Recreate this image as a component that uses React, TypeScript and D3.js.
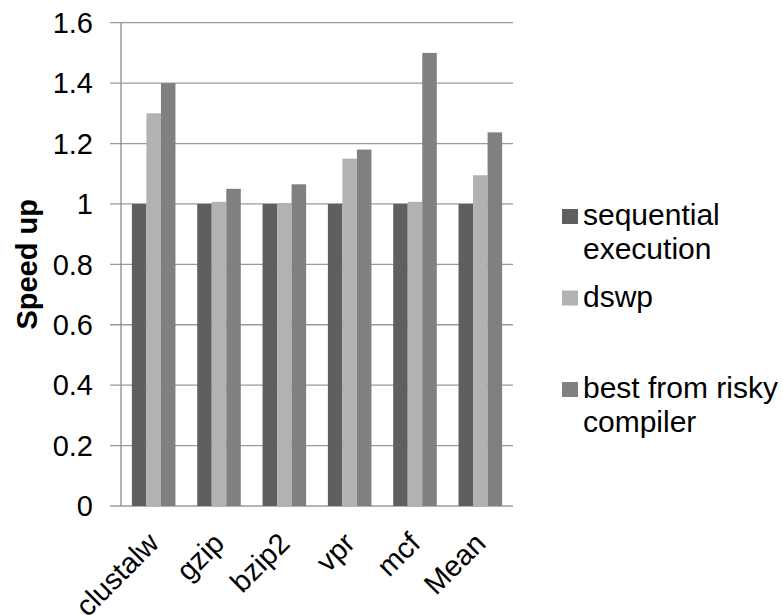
import React from "react";
import * as d3 from "d3";

// Benchmarks and the speed-up of each execution strategy
const categories = ["clustalw", "gzip", "bzip2", "vpr", "mcf", "Mean"];
const seriesNames = ["sequential execution", "dswp", "best from risky compiler"];
const sequential = [1, 1, 1, 1, 1, 1];
const dswp = [1.3, 1.007, 1.0, 1.15, 1.007, 1.095];
const bestRisky = [1.4, 1.05, 1.065, 1.18, 1.5, 1.237];
const yTicks = [0, 0.2, 0.4, 0.6, 0.8, 1, 1.2, 1.4, 1.6];
const legendLines = [["sequential", "execution"], ["dswp"], ["best from risky", "compiler"]];

const colors = ["#5f5f5f", "#b2b2b2", "#808080"];
const seriesValues = [sequential, dswp, bestRisky];

const W = 783;
const H = 615;
const font = "'Liberation Sans', Arial, sans-serif";

export default function App() {
  const left = 121;
  const right = 513;
  const top = 22.7;
  const bottom = 506;

  const y = d3.scaleLinear().domain([0, 1.6]).range([bottom, top]);
  const x = d3
    .scaleBand<string>()
    .domain(categories)
    .range([left, right])
    .paddingInner(0.333)
    .paddingOuter(0.1667);
  const xs = d3
    .scaleBand<number>()
    .domain(d3.range(seriesNames.length))
    .range([0, x.bandwidth()]);

  const legendY = [225, 306.5, 398];

  return (
    <svg
      width={W}
      height={H}
      style={{ position: "absolute", left: 0, top: 0, background: "#fff" }}
      fontFamily={font}
    >
      {/* gridlines with their tick stubs */}
      {yTicks.map((t) => (
        <line
          key={"g" + t}
          x1={110}
          x2={right}
          y1={y(t)}
          y2={y(t)}
          stroke="#9a9a9a"
          strokeWidth={1.3}
        />
      ))}
      {/* y axis line */}
      <line x1={left} x2={left} y1={top} y2={bottom} stroke="#8a8a8a" strokeWidth={1.3} />

      {/* bars */}
      {categories.map((c, i) => (
        <g key={c} transform={`translate(${x(c)},0)`}>
          {seriesValues.map((vals, s) => (
            <rect
              key={s}
              x={xs(s)}
              y={y(vals[i])}
              width={xs.bandwidth()}
              height={bottom - y(vals[i])}
              fill={colors[s]}
            />
          ))}
        </g>
      ))}

      {/* y tick labels */}
      {yTicks.map((t) => (
        <text
          key={"t" + t}
          x={93}
          y={y(t)}
          dy="0.35em"
          textAnchor="end"
          fontSize={29}
          fill="#000"
        >
          {d3.format("")(t)}
        </text>
      ))}

      {/* y axis title */}
      <text
        transform={`translate(37,${(top + bottom) / 2}) rotate(-90)`}
        textAnchor="middle"
        fontSize={29}
        fontWeight="bold"
        fill="#000"
      >
        Speed up
      </text>

      {/* category labels */}
      {categories.map((c) => (
        <text
          key={"x" + c}
          transform={`translate(${(x(c) as number) + x.bandwidth() / 2 + 7},545) rotate(-45)`}
          textAnchor="end"
          fontSize={29}
          fill="#000"
        >
          {c}
        </text>
      ))}

      {/* legend */}
      {legendLines.map((lines, s) => (
        <g key={"l" + s}>
          <rect x={562} y={legendY[s] - 16} width={16} height={15} fill={colors[s]} />
          {lines.map((ln, k) => (
            <text
              key={k}
              x={583}
              y={legendY[s] + k * 34}
              fontSize={30}
              fill="#000"
            >
              {ln}
            </text>
          ))}
        </g>
      ))}
    </svg>
  );
}
